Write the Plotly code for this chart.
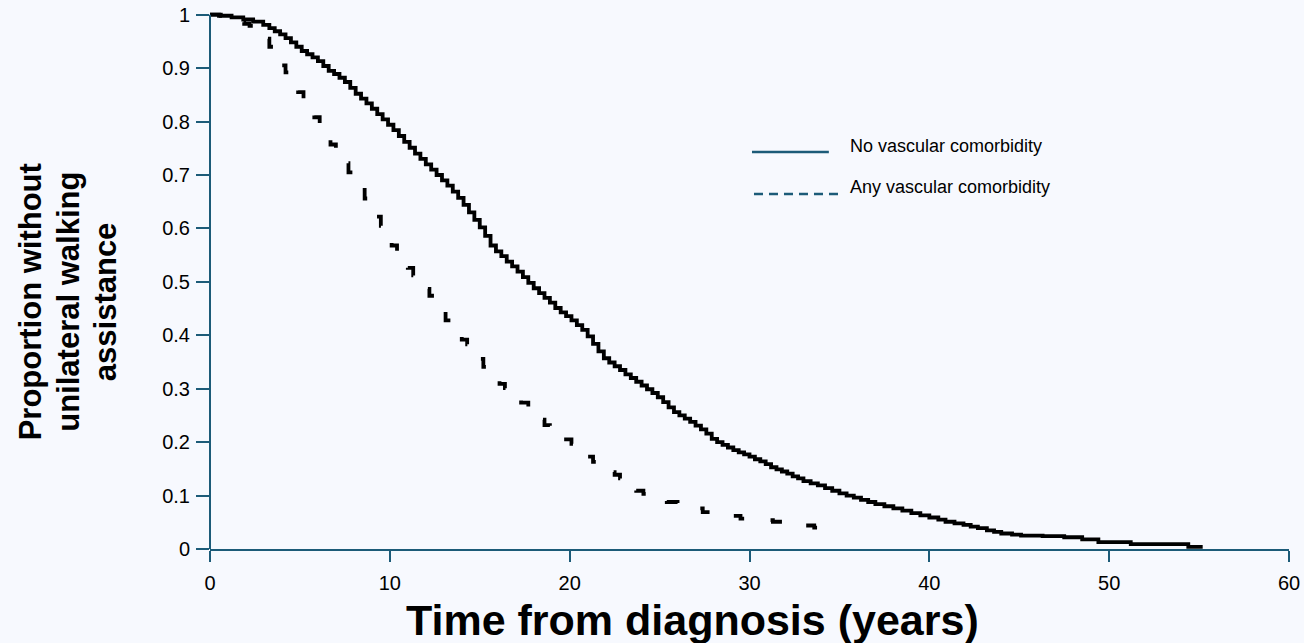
import plotly.graph_objects as go

# ---- data ----
no_vasc_time = [0.0, 0.6, 1.2, 1.85, 2.4, 2.96, 3.3, 3.6, 3.9, 4.2, 4.5, 4.8, 5.1, 5.4, 5.7, 6.0, 6.3, 6.6,
                6.9, 7.2, 7.5, 7.8, 8.1, 8.4, 8.7, 9.0, 9.3, 9.6, 9.9, 10.2, 10.5, 10.8, 11.1, 11.4, 11.7,
                12.0, 12.3, 12.6, 12.9, 13.2, 13.5, 13.8, 14.1, 14.4, 14.7, 15.0, 15.3, 15.6, 15.9, 16.2,
                16.5, 16.8, 17.1, 17.4, 17.7, 18.0, 18.3, 18.6, 18.9, 19.2, 19.5, 19.8, 20.1, 20.4, 20.7,
                21.0, 21.3, 21.6, 21.9, 22.2, 22.5, 22.8, 23.1, 23.4, 23.7, 24.0, 24.3, 24.6, 24.9, 25.2,
                25.5, 25.8, 26.1, 26.4, 26.7, 27.0, 27.3, 27.6, 27.9, 28.2, 28.5, 28.8, 29.1, 29.4, 29.7,
                30.0, 30.3, 30.6, 30.9, 31.2, 31.5, 31.8, 32.1, 32.4, 32.7, 33.0, 33.4, 33.8, 34.2, 34.6,
                35.0, 35.4, 35.8, 36.2, 36.6, 37.0, 37.5, 38.0, 38.5, 39.0, 39.5, 40.0, 40.5, 40.9, 41.4,
                41.9, 42.3, 42.7, 43.2, 43.6, 44.0, 44.6, 45.1, 46.3, 47.5, 48.5, 49.4, 51.2, 54.4, 55.2]
no_vasc_surv = [1.000, 0.998, 0.995, 0.991, 0.987, 0.981, 0.975, 0.969, 0.963, 0.956, 0.948, 0.940, 0.932,
                0.926, 0.920, 0.913, 0.904, 0.895, 0.889, 0.882, 0.874, 0.863, 0.852, 0.843, 0.834, 0.824,
                0.814, 0.804, 0.794, 0.784, 0.773, 0.762, 0.751, 0.740, 0.730, 0.720, 0.710, 0.700, 0.690,
                0.680, 0.669, 0.657, 0.644, 0.630, 0.616, 0.602, 0.586, 0.568, 0.557, 0.548, 0.538, 0.529,
                0.519, 0.509, 0.498, 0.488, 0.479, 0.470, 0.461, 0.451, 0.443, 0.436, 0.428, 0.419, 0.410,
                0.398, 0.384, 0.370, 0.357, 0.349, 0.342, 0.335, 0.327, 0.320, 0.313, 0.306, 0.299, 0.292,
                0.284, 0.275, 0.265, 0.256, 0.250, 0.244, 0.238, 0.231, 0.224, 0.216, 0.206, 0.200, 0.195,
                0.190, 0.185, 0.181, 0.177, 0.173, 0.168, 0.164, 0.159, 0.153, 0.149, 0.145, 0.141, 0.136,
                0.132, 0.127, 0.123, 0.119, 0.114, 0.109, 0.104, 0.100, 0.096, 0.092, 0.088, 0.084, 0.080,
                0.076, 0.072, 0.067, 0.063, 0.059, 0.055, 0.051, 0.048, 0.045, 0.042, 0.039, 0.035, 0.032,
                0.029, 0.027, 0.025, 0.024, 0.022, 0.018, 0.013, 0.009, 0.004, 0.004]

any_vasc_time = [0.0, 0.5, 1.0, 1.3, 1.6, 1.9, 2.2, 2.6, 2.9, 3.1, 3.3, 3.5, 3.7, 3.9, 4.2, 4.4, 4.6, 4.9,
                 5.2, 5.5, 5.8, 6.1, 6.4, 6.7, 7.0, 7.4, 7.7, 8.0, 8.3, 8.6, 8.9, 9.2, 9.5, 9.8, 10.1, 10.4,
                 10.7, 11.0, 11.3, 11.6, 11.9, 12.2, 12.5, 12.8, 13.1, 13.4, 13.7, 14.0, 14.3, 14.6, 14.9,
                 15.2, 15.5, 15.8, 16.1, 16.4, 16.7, 17.0, 17.3, 17.7, 18.0, 18.3, 18.6, 18.9, 19.2, 19.5,
                 19.8, 20.1, 20.4, 20.7, 21.0, 21.3, 21.6, 21.9, 22.2, 22.5, 22.8, 23.1, 23.4, 23.7, 24.1,
                 24.5, 25.0, 25.4, 26.0, 26.6, 27.4, 28.0, 28.7, 29.5, 30.3, 31.3, 32.4, 33.0, 33.6, 34.0,
                 34.4]
any_vasc_surv = [1.000, 0.998, 0.993, 0.990, 0.986, 0.983, 0.979, 0.975, 0.965, 0.955, 0.940, 0.928, 0.915,
                 0.905, 0.892, 0.878, 0.866, 0.855, 0.840, 0.825, 0.808, 0.790, 0.772, 0.757, 0.743, 0.722,
                 0.705, 0.690, 0.672, 0.656, 0.640, 0.622, 0.605, 0.585, 0.568, 0.553, 0.540, 0.526, 0.512,
                 0.500, 0.487, 0.474, 0.460, 0.444, 0.428, 0.413, 0.402, 0.392, 0.383, 0.372, 0.356, 0.341,
                 0.329, 0.318, 0.309, 0.301, 0.293, 0.283, 0.274, 0.263, 0.252, 0.242, 0.232, 0.224, 0.218,
                 0.211, 0.205, 0.197, 0.190, 0.183, 0.173, 0.163, 0.154, 0.149, 0.144, 0.139, 0.132, 0.122,
                 0.115, 0.109, 0.103, 0.098, 0.092, 0.088, 0.082, 0.076, 0.069, 0.066, 0.062, 0.057, 0.054,
                 0.051, 0.048, 0.044, 0.040, 0.035, 0.032]

series_names = ["No vascular comorbidity", "Any vascular comorbidity"]
x_tick_vals = [0, 10, 20, 30, 40, 50, 60]
x_tick_text = ["0", "10", "20", "30", "40", "50", "60"]
y_tick_vals = [0, 0.1, 0.2, 0.3, 0.4, 0.5, 0.6, 0.7, 0.8, 0.9, 1.0]
y_tick_text = ["0", "0.1", "0.2", "0.3", "0.4", "0.5", "0.6", "0.7", "0.8", "0.9", "1"]
y_title_lines = ["Proportion without", "unilateral walking", "assistance"]
x_title = "Time from diagnosis (years)"

# ---- styling ----
BG = "#F7F9FE"
AXIS = "#1C5B78"
FONT = "Liberation Sans, Arial, sans-serif"

fig = go.Figure()
fig.add_trace(go.Scatter(x=no_vasc_time, y=no_vasc_surv, mode="lines", name=series_names[0],
                         line=dict(color="black", width=3.8, shape="hv"), showlegend=False))
fig.add_trace(go.Scatter(x=any_vasc_time, y=any_vasc_surv, mode="lines", name=series_names[1],
                         line=dict(color="black", width=3.8, shape="hv", dash="13px,28px"),
                         showlegend=False))

W, H = 1304, 643
L, R, T, B = 210, 13, 4, 94
pw, ph = W - L - R, H - T - B
def px_x(p):
    return (p - L) / pw
def px_y(p):
    return (H - B - p) / ph

shapes = [
    dict(type="line", xref="paper", yref="paper", x0=0, x1=0, y0=0, y1=1 / 1.02,
         line=dict(color=AXIS, width=2)),
    dict(type="line", xref="paper", yref="paper", x0=px_x(753), x1=px_x(830), y0=px_y(152), y1=px_y(152),
         line=dict(color=AXIS, width=2.5)),
    dict(type="line", xref="paper", yref="paper", x0=px_x(755), x1=px_x(842), y0=px_y(194), y1=px_y(194),
         line=dict(color=AXIS, width=2.5, dash="9px,6px")),
]

annotations = [
    dict(text=series_names[0], xref="paper", yref="paper", x=px_x(849), y=px_y(146),
         xanchor="left", yanchor="middle", showarrow=False, font=dict(size=18, color="black", family=FONT)),
    dict(text=series_names[1], xref="paper", yref="paper", x=px_x(849), y=px_y(187),
         xanchor="left", yanchor="middle", showarrow=False, font=dict(size=18, color="black", family=FONT)),
    dict(text="<b>" + x_title + "</b>", xref="paper", yref="paper",
         x=px_x(693), y=px_y(620), xanchor="center", yanchor="middle", showarrow=False,
         font=dict(size=43, color="black", family=FONT)),
]
for cx, line in zip([31, 68.5, 106], y_title_lines):
    annotations.append(dict(text="<b>" + line + "</b>", xref="paper", yref="paper",
                            x=px_x(cx), y=px_y(302), xanchor="center", yanchor="middle", textangle=-90,
                            showarrow=False, font=dict(size=31, color="black", family=FONT)))

fig.update_layout(
    width=W, height=H,
    margin=dict(l=L, r=R, t=T, b=B, pad=0),
    paper_bgcolor=BG, plot_bgcolor=BG,
    showlegend=False,
    font=dict(family=FONT, color="black"),
    shapes=shapes,
    annotations=annotations,
    xaxis=dict(range=[0, 60], tickvals=x_tick_vals, ticktext=x_tick_text, showgrid=False, zeroline=False,
               showline=True, linecolor=AXIS, linewidth=2, ticks="outside", ticklen=11, tickwidth=2,
               tickcolor=AXIS, tickfont=dict(size=20, family=FONT, color="black"), ticklabelstandoff=4),
    yaxis=dict(range=[0, 1.02], tickvals=y_tick_vals, ticktext=y_tick_text, showgrid=False, zeroline=False,
               showline=False, ticks="outside", ticklen=13, tickwidth=2, tickcolor=AXIS,
               tickfont=dict(size=20, family=FONT, color="black"), ticklabelstandoff=2),
)

fig.write_html("out.html")
